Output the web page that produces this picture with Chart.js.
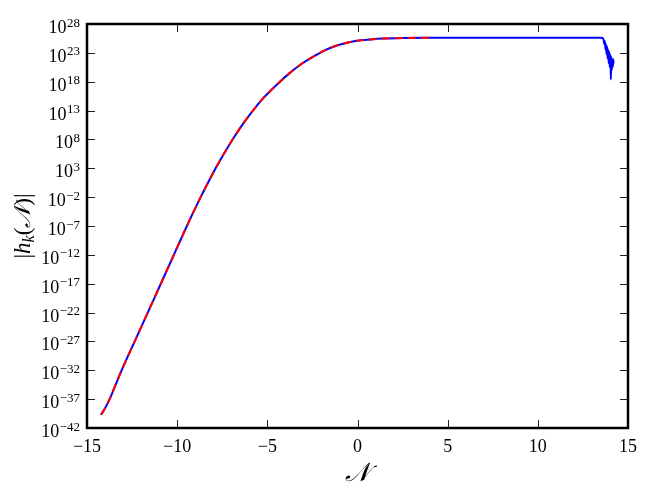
<!DOCTYPE html>
<html>
<head>
<meta charset="utf-8">
<script src="https://cdn.jsdelivr.net/npm/chart.js@4/dist/chart.umd.min.js"></script>
<style>
  html, body { margin: 0; padding: 0; background: #fff; }
  #wrap { width: 654px; height: 491px; }
</style>
</head>
<body>
<div id="wrap"><canvas id="hk" width="654" height="491"></canvas></div>
<script>
// tick positions
var xTicks = [-15, -10, -5, 0, 5, 10, 15];
var yExponents = [-42, -37, -32, -27, -22, -17, -12, -7, -2, 3, 8, 13, 18, 23, 28];

// blue (numerical) curve: N and log10|h_k|
var blueN = [-14.22, -13.95, -13.7, -13.4, -13.08, -12.4, -11.7, -11.0, -10.3, -9.6, -9.2, -8.8, -8.35, -7.85, -7.3, -6.8,
  -6.3, -5.8, -5.3, -4.85, -4.39, -3.8, -3.19, -2.5, -1.9, -1.34, -0.7, -0.03, 0.7, 1.42, 2.5, 4.0,
  5.5, 7.0, 8.5, 10.0, 11.5, 13.0, 13.5, 13.6, 13.65, 13.69, 13.72, 13.75, 13.78, 13.81, 13.84, 13.87,
  13.9, 13.93, 13.96, 13.99, 14.02, 14.05, 14.08, 14.1, 14.13, 14.16, 14.18, 14.2];
var blueLog = [-39.7, -38.3, -36.7, -34.4, -32.0, -27.3, -22.5, -17.65, -12.8, -7.95, -5.25, -2.65, 0.15, 3.1, 6.1, 8.6,
  10.9, 13.0, 14.9, 16.35, 17.75, 19.4, 20.9, 22.25, 23.3, 24.05, 24.65, 25.1, 25.32, 25.47, 25.57, 25.62,
  25.62, 25.62, 25.62, 25.62, 25.62, 25.62, 25.62, 25.55, 25.2, 24.5, 25.0, 23.6, 24.5, 22.8, 24.1, 22.0,
  23.6, 21.2, 23.2, 20.5, 22.7, 18.4, 22.3, 20.0, 21.8, 20.6, 21.9, 21.2];

// red (analytic, dashed) curve
var redN = [-14.22, -13.95, -13.7, -13.4, -13.08, -12.4, -11.7, -11.0, -10.3, -9.6, -9.2, -8.8, -8.35, -7.85, -7.3, -6.8,
  -6.3, -5.8, -5.3, -4.85, -4.39, -3.8, -3.19, -2.5, -1.9, -1.34, -0.7, -0.03, 0.7, 1.42, 2.5, 4.1];
var redLog = [-39.7, -38.3, -36.7, -34.4, -32.0, -27.3, -22.5, -17.65, -12.8, -7.95, -5.25, -2.65, 0.15, 3.1, 6.1, 8.6,
  10.9, 13.0, 14.9, 16.35, 17.75, 19.4, 20.9, 22.25, 23.3, 24.05, 24.65, 25.1, 25.32, 25.47, 25.57, 25.62];

function toPoints(xs, logs) {
  return xs.map(function(x, i) { return { x: x, y: Math.pow(10, logs[i]) }; });
}

var serif = '"Liberation Serif", "DejaVu Serif", serif';

// draws the matplotlib-like frame, inward ticks, labels and axis titles
var axesPlugin = {
  id: 'axesPlugin',
  afterDraw: function(chart) {
    var ctx = chart.ctx, a = chart.chartArea;
    var xs = chart.scales.x, ys = chart.scales.y;
    ctx.save();

    // ticks on all four sides, pointing in
    ctx.strokeStyle = '#222';
    ctx.lineWidth = 1;
    ctx.beginPath();
    xTicks.forEach(function(t) {
      var px = Math.round(xs.getPixelForValue(t)) + 0.5;
      ctx.moveTo(px, a.bottom); ctx.lineTo(px, a.bottom - 8);
      ctx.moveTo(px, a.top); ctx.lineTo(px, a.top + 8);
    });
    yExponents.forEach(function(e) {
      var py = Math.round(ys.getPixelForValue(Math.pow(10, e))) + 0.5;
      ctx.moveTo(a.left, py); ctx.lineTo(a.left + 8, py);
      ctx.moveTo(a.right, py); ctx.lineTo(a.right - 8, py);
    });
    ctx.stroke();

    // frame
    ctx.strokeStyle = '#000';
    ctx.lineWidth = 2.5;
    ctx.strokeRect(a.left, a.top, a.right - a.left, a.bottom - a.top);

    ctx.fillStyle = '#000';
    // x tick labels
    ctx.font = '18px ' + serif;
    ctx.textAlign = 'center';
    ctx.textBaseline = 'alphabetic';
    xTicks.forEach(function(t) {
      var s = t < 0 ? '\u2212' + Math.abs(t) : String(t);
      ctx.fillText(s, xs.getPixelForValue(t), a.bottom + 24);
    });

    // y tick labels: 10^e
    yExponents.forEach(function(e) {
      var py = ys.getPixelForValue(Math.pow(10, e));
      var exp = e < 0 ? '\u2212' + Math.abs(e) : String(e);
      ctx.font = '13px ' + serif;
      ctx.textAlign = 'right';
      var rightX = a.left - 7;
      var ew = ctx.measureText(exp).width;
      ctx.fillText(exp, rightX, py + 2.5);
      ctx.font = '18px ' + serif;
      ctx.fillText('10', rightX - ew - 0.5, py + 9);
    });

    // x axis title
    ctx.font = 'italic 26px ' + serif;
    ctx.textAlign = 'center';
    ctx.fillText('\uD835\uDCA9', (a.left + a.right) / 2, a.bottom + 53);

    // y axis title |h_k(N)|
    ctx.translate(23, (a.top + a.bottom) / 2);
    ctx.rotate(-Math.PI / 2);
    var parts = [
      { t: '|', f: '23px ' + serif, dy: 0 },
      { t: 'h', f: 'italic 23px ' + serif, dy: 0 },
      { t: 'k', f: 'italic 16px ' + serif, dy: 4 },
      { t: '(', f: '23px ' + serif, dy: 0 },
      { t: '\uD835\uDCA9', f: 'italic 23px ' + serif, dy: 0 },
      { t: ')|', f: '23px ' + serif, dy: 0 }
    ];
    var total = 0;
    parts.forEach(function(p) { ctx.font = p.f; p.w = ctx.measureText(p.t).width; total += p.w; });
    var cx = -total / 2;
    ctx.textAlign = 'left';
    parts.forEach(function(p) { ctx.font = p.f; ctx.fillText(p.t, cx, 7 + p.dy); cx += p.w; });

    ctx.restore();
  }
};

new Chart(document.getElementById('hk').getContext('2d'), {
  type: 'line',
  data: {
    datasets: [
      {
        label: 'analytic',
        data: toPoints(redN, redLog),
        borderColor: '#ff0000',
        borderWidth: 2,
        borderDash: [8, 5],
        pointRadius: 0,
        fill: false,
        cubicInterpolationMode: 'monotone'
      },
      {
        label: 'numerical',
        data: toPoints(blueN, blueLog),
        borderColor: '#0000ff',
        borderWidth: 2,
        pointRadius: 0,
        fill: false,
        cubicInterpolationMode: 'monotone'
      }
    ]
  },
  options: {
    responsive: false,
    animation: false,
    layout: { padding: { left: 87, right: 26, top: 24, bottom: 63 } },
    plugins: { legend: { display: false }, tooltip: { enabled: false } },
    scales: {
      x: { type: 'linear', min: -15, max: 15, display: false },
      y: { type: 'logarithmic', min: 1e-42, max: 1e28, display: false }
    }
  },
  plugins: [axesPlugin]
});
</script>
</body>
</html>
